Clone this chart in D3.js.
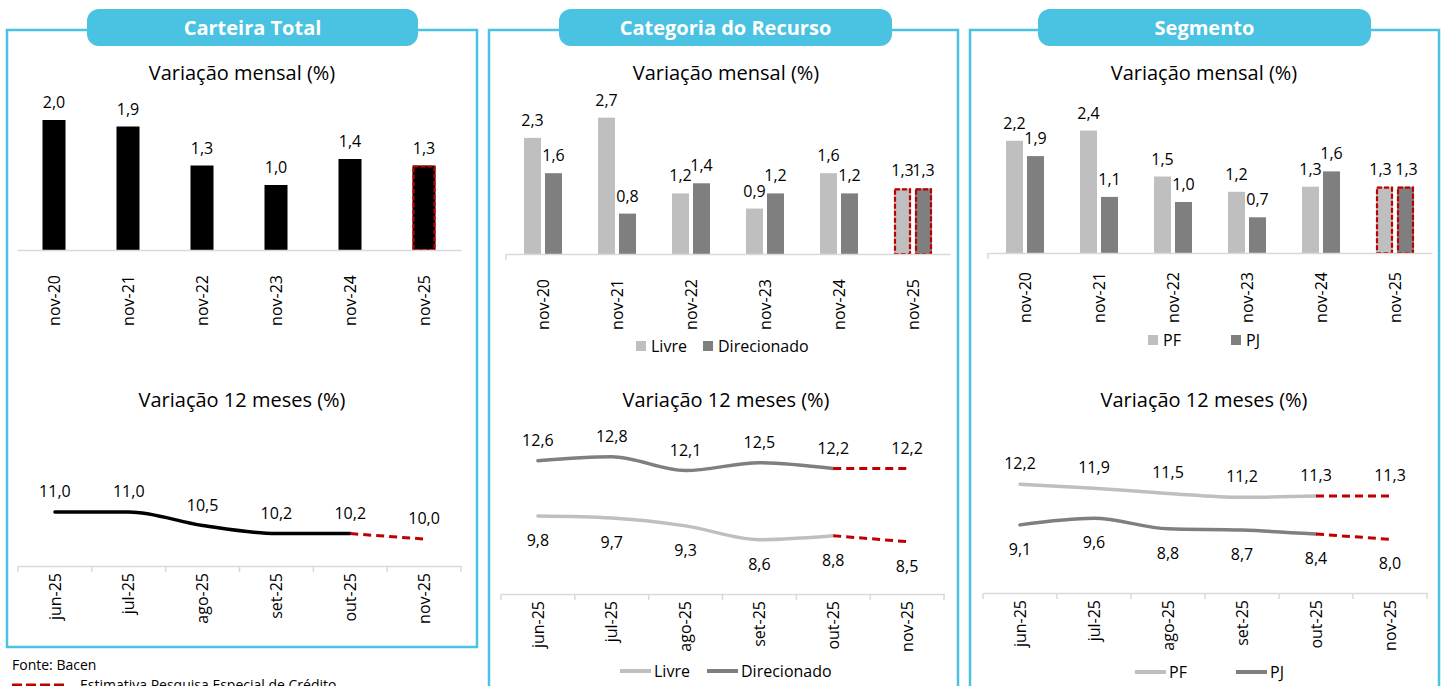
<!DOCTYPE html>
<html>
<head>
<meta charset="utf-8">
<script src="https://cdn.jsdelivr.net/npm/d3@7"></script>
<style>
  body { margin: 0; background: #fff; }
  svg { display: block; font-family: "Open Sans", Lato, sans-serif; }
</style>
</head>
<body>
<svg id="chart" width="1445" height="686"></svg>
<script>
// Categories
const monthsBar = ["nov-20", "nov-21", "nov-22", "nov-23", "nov-24", "nov-25"];
const monthsLine = ["jun-25", "jul-25", "ago-25", "set-25", "out-25", "nov-25"];

// Variação mensal (%)
const totalMensal = [2.0, 1.9, 1.3, 1.0, 1.4, 1.3];
const livreMensal = [2.3, 2.7, 1.2, 0.9, 1.6, 1.3];
const direcMensal = [1.6, 0.8, 1.4, 1.2, 1.2, 1.3];
const pfMensal = [2.2, 2.4, 1.5, 1.2, 1.3, 1.3];
const pjMensal = [1.9, 1.1, 1.0, 0.7, 1.6, 1.3];

// Variação 12 meses (%)
const total12m = [11.0, 11.0, 10.5, 10.2, 10.2, 10.0];
const livre12m = [9.8, 9.7, 9.3, 8.6, 8.8, 8.5];
const direc12m = [12.6, 12.8, 12.1, 12.5, 12.2, 12.2];
const pf12m = [12.2, 11.9, 11.5, 11.2, 11.3, 11.3];
const pj12m = [9.1, 9.6, 8.8, 8.7, 8.4, 8.0];

const BLUE = "#4AC2E1";
const RED = "#C00000";
const LIGHT = "#BFBFBF";
const DARK = "#7F7F7F";
const AXIS = "#D9D9D9";
const fmt = (v) => v.toFixed(1).replace(".", ",");

const svg = d3.select("#chart");

// Panel frames and header pills
const panels = [
  { x: 7, w: 470, h: 617, pill: [87, 418], title: "Carteira Total" },
  { x: 489, w: 469, h: 700, pill: [559, 892], title: "Categoria do Recurso" },
  { x: 970, w: 469, h: 700, pill: [1038, 1371], title: "Segmento" }
];

panels.forEach((p) => {
  svg.append("rect")
    .attr("x", p.x).attr("y", 30)
    .attr("width", p.w).attr("height", p.h)
    .attr("fill", "none").attr("stroke", BLUE).attr("stroke-width", 2.5);
  svg.append("rect")
    .attr("x", p.pill[0]).attr("y", 9)
    .attr("width", p.pill[1] - p.pill[0]).attr("height", 37)
    .attr("rx", 12).attr("fill", BLUE);
  svg.append("text")
    .attr("x", (p.pill[0] + p.pill[1]) / 2).attr("y", 35)
    .attr("text-anchor", "middle").attr("fill", "#fff")
    .attr("font-size", 20).attr("font-weight", "bold")
    .text(p.title);
});

function chartTitle(cx, y, text) {
  svg.append("text")
    .attr("x", cx).attr("y", y)
    .attr("text-anchor", "middle").attr("font-size", 20).attr("fill", "#000")
    .text(text);
}

// Rotated category labels below an axis
function rotatedAxis(g, x, y0, offset) {
  const axis = d3.axisBottom(x).tickSize(0).tickSizeOuter(0);
  const a = g.append("g").attr("transform", `translate(0,${y0})`).call(axis);
  a.select(".domain").attr("stroke", AXIS).attr("stroke-width", 1.5);
  a.selectAll(".tick text")
    .attr("transform", "rotate(-90)")
    .attr("x", -offset).attr("y", 0).attr("dy", "0.35em")
    .attr("text-anchor", "end")
    .attr("font-size", 16).attr("fill", "#000")
    .attr("font-family", "'Open Sans', Lato, sans-serif");
  return a;
}

/**
 * Grouped (or single) bar chart for the monthly variation.
 */
function barChart(opt) {
  const g = svg.append("g");
  const x = d3.scaleBand().domain(monthsBar).range(opt.xr);
  const y = d3.scaleLinear().domain([0, 1]).range([opt.base, opt.base - opt.unit]);
  const keys = opt.series.map((s) => s.name);
  const x1 = d3.scaleBand().domain(keys)
    .range([-opt.groupW / 2, opt.groupW / 2])
    .paddingInner(keys.length > 1 ? 0.19 : 0);

  opt.series.forEach((s, si) => {
    const bars = g.append("g");
    bars.selectAll("rect")
      .data(s.values)
      .enter()
      .append("rect")
      .attr("x", (d, i) => x(monthsBar[i]) + x.bandwidth() / 2 + x1(s.name))
      .attr("y", (d) => y(d))
      .attr("width", x1.bandwidth())
      .attr("height", (d) => opt.base - y(d))
      .attr("fill", s.color);
    // estimate outline on last bar
    bars.selectAll(".est")
      .data(s.values.slice(-1))
      .enter()
      .append("rect")
      .attr("x", x(monthsBar[5]) + x.bandwidth() / 2 + x1(s.name) + 1)
      .attr("y", (d) => y(d) + 1)
      .attr("width", x1.bandwidth() - 2)
      .attr("height", (d) => opt.base - y(d) - 1)
      .attr("fill", "none").attr("stroke", RED)
      .attr("stroke-width", 2.2).attr("stroke-dasharray", "5,2");
    // labels; the last group may be nudged apart like Excel does
    const shift = opt.lastShift ? opt.lastShift[si] : 0;
    bars.selectAll(".lbl")
      .data(s.values)
      .enter()
      .append("text")
      .attr("x", (d, i) => x(monthsBar[i]) + x.bandwidth() / 2 + x1(s.name) + x1.bandwidth() / 2 + (i === 5 ? shift : 0))
      .attr("y", (d) => y(d) - 12)
      .attr("text-anchor", "middle").attr("font-size", 16)
      .text(fmt);
  });

  rotatedAxis(g, x, opt.base, opt.labelOffset);
  if (opt.leftTick) {
    g.append("line")
      .attr("x1", opt.xr[0]).attr("x2", opt.xr[0])
      .attr("y1", opt.base).attr("y2", opt.base + 6)
      .attr("stroke", AXIS).attr("stroke-width", 1.5);
  }

  if (opt.legend) {
    opt.legend.forEach((l, i) => {
      const s = opt.series[i];
      g.append("rect").attr("x", l).attr("y", opt.legendY - 5)
        .attr("width", 10).attr("height", 10).attr("fill", s.color);
      g.append("text").attr("x", l + 15).attr("y", opt.legendY + 6)
        .attr("font-size", 16).text(s.name);
    });
  }
}

/**
 * Line chart for the 12-month variation, with the last segment dashed (estimate).
 */
function lineChart(opt) {
  const g = svg.append("g");
  const x = d3.scaleBand().domain(monthsLine).range(opt.xr);
  const y = d3.scaleLinear().domain(opt.domain).range([opt.base, opt.base - opt.unit * (opt.domain[1] - opt.domain[0])]);
  const cx = (i) => x(monthsLine[i]) + x.bandwidth() / 2;

  const a = rotatedAxis(g, x, opt.base, 7);
  a.selectAll(".boundary")
    .data(d3.range(monthsLine.length + 1))
    .enter()
    .append("line")
    .attr("x1", (i) => opt.xr[0] + i * x.step())
    .attr("x2", (i) => opt.xr[0] + i * x.step())
    .attr("y1", 0).attr("y2", 6)
    .attr("stroke", AXIS).attr("stroke-width", 1.5);

  const line = d3.line()
    .x((d) => cx(d.i))
    .y((d) => y(d.v));

  opt.series.forEach((s) => {
    const pts = s.values.map((v, i) => ({ v, i }));
    g.append("path")
      .datum(pts.slice(0, 5))
      .attr("d", line.curve(d3.curveMonotoneX))
      .attr("fill", "none").attr("stroke", s.color)
      .attr("stroke-width", 3.5).attr("stroke-linecap", "round");
    g.append("path")
      .datum(pts.slice(4))
      .attr("d", line.curve(d3.curveLinear))
      .attr("fill", "none").attr("stroke", RED)
      .attr("stroke-width", 3).attr("stroke-dasharray", "8,5");
    g.selectAll(null)
      .data(pts)
      .enter()
      .append("text")
      .attr("x", (d) => cx(d.i))
      .attr("y", (d) => y(d.v) + (s.below ? 30 : -15))
      .attr("text-anchor", "middle").attr("font-size", 16)
      .text((d) => fmt(d.v));
  });

  if (opt.legend) {
    opt.legend.forEach((l, i) => {
      const s = opt.series[i];
      g.append("line").attr("x1", l).attr("x2", l + 31)
        .attr("y1", opt.legendY).attr("y2", opt.legendY)
        .attr("stroke", s.color).attr("stroke-width", 4);
      g.append("text").attr("x", l + 34).attr("y", opt.legendY + 6)
        .attr("font-size", 16).text(s.name);
    });
  }
}

// Panel 1: Carteira Total
chartTitle(242, 80, "Variação mensal (%)");
barChart({
  xr: [17, 461], base: 250, unit: 65, groupW: 23, labelOffset: 25,
  series: [{ name: "Total", values: totalMensal, color: "#000" }]
});
chartTitle(242, 407, "Variação 12 meses (%)");
lineChart({
  xr: [18, 461], base: 566, unit: 27, domain: [9, 16],
  series: [{ name: "Total", values: total12m, color: "#000" }]
});

// Panel 2: Categoria do Recurso
chartTitle(726, 80, "Variação mensal (%)");
barChart({
  xr: [506, 950], base: 254, unit: 50.5, groupW: 38, labelOffset: 25, leftTick: true,
  series: [
    { name: "Livre", values: livreMensal, color: LIGHT },
    { name: "Direcionado", values: direcMensal, color: DARK }
  ],
  legend: [636, 703], legendY: 346
});
chartTitle(726, 407, "Variação 12 meses (%)");
lineChart({
  xr: [501, 944], base: 594, unit: 19.75, domain: [5.85, 14],
  series: [
    { name: "Livre", values: livre12m, color: LIGHT, below: true },
    { name: "Direcionado", values: direc12m, color: DARK }
  ],
  legend: [620, 707], legendY: 671
});

// Panel 3: Segmento
chartTitle(1204, 80, "Variação mensal (%)");
barChart({
  xr: [988, 1432], base: 253, unit: 51, groupW: 38, labelOffset: 19, leftTick: true,
  lastShift: [-4, 1],
  series: [
    { name: "PF", values: pfMensal, color: LIGHT },
    { name: "PJ", values: pjMensal, color: DARK }
  ],
  legend: [1148, 1231], legendY: 340
});
chartTitle(1204, 407, "Variação 12 meses (%)");
lineChart({
  xr: [983, 1427], base: 593, unit: 13.1, domain: [3.9, 16],
  series: [
    { name: "PF", values: pf12m, color: LIGHT },
    { name: "PJ", values: pj12m, color: DARK, below: true }
  ],
  legend: [1135, 1236], legendY: 672
});

// Footer
svg.append("text").attr("x", 12).attr("y", 670).attr("font-size", 14).text("Fonte: Bacen");
svg.append("line").attr("x1", 12).attr("x2", 65).attr("y1", 685).attr("y2", 685)
  .attr("stroke", RED).attr("stroke-width", 3).attr("stroke-dasharray", "10,4");
svg.append("text").attr("x", 80).attr("y", 690).attr("font-size", 14)
  .text("Estimativa Pesquisa Especial de Crédito");
</script>
</body>
</html>
